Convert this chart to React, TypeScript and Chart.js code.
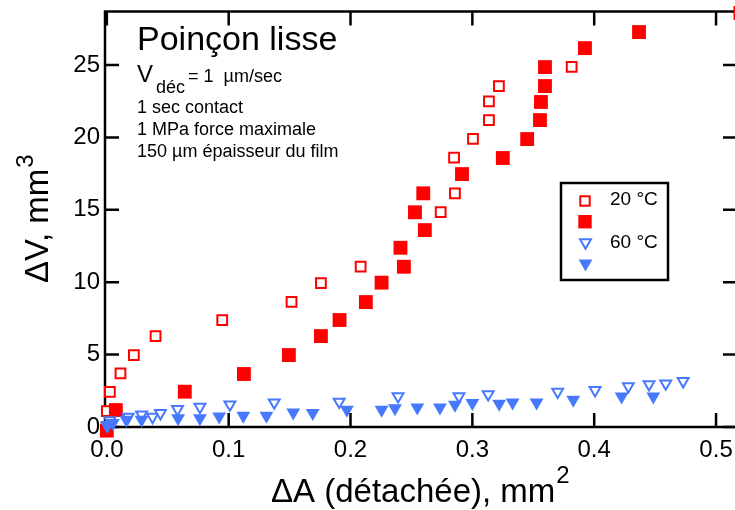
import React, { useEffect, useRef } from 'react';
import { Chart, registerables } from 'chart.js';

Chart.register(...registerables);

// 20 °C, open squares
const open20X = [0.0, 0.0025, 0.0112, 0.0222, 0.040, 0.0947, 0.1516, 0.1757, 0.2083, 0.274, 0.2857, 0.285, 0.3005, 0.3136, 0.3136, 0.3218, 0.3815];
const open20Y = [1.1, 2.42, 3.7, 4.97, 6.28, 7.39, 8.65, 9.94, 11.07, 14.85, 16.13, 18.6, 19.9, 21.2, 22.5, 23.55, 24.88];

// 20 °C, filled squares
const filled20X = [0.0, 0.0074, 0.064, 0.1125, 0.1494, 0.1757, 0.191, 0.2126, 0.2255, 0.2438, 0.241, 0.261, 0.2529, 0.2597, 0.2915, 0.325, 0.345, 0.3555, 0.3563, 0.3596, 0.3596, 0.3924, 0.4368, 0.52];
const filled20Y = [-0.25, 1.17, 2.44, 3.66, 4.97, 6.28, 7.39, 8.63, 9.97, 11.07, 12.38, 13.6, 14.83, 16.14, 17.47, 18.58, 19.89, 21.2, 22.45, 23.55, 24.86, 26.17, 27.28, 28.6];

// 60 °C, open triangles
const open60X = [0.0025, 0.0175, 0.0285, 0.0375, 0.044, 0.058, 0.0764, 0.101, 0.1374, 0.1907, 0.239, 0.289, 0.313, 0.37, 0.4007, 0.428, 0.445, 0.4587, 0.473];
const open60Y = [0.45, 0.7, 0.86, 0.7, 0.96, 1.23, 1.39, 1.55, 1.69, 1.74, 2.12, 2.12, 2.26, 2.43, 2.54, 2.81, 2.95, 3.0, 3.16];

// 60 °C, filled triangles
const filled60X = [0.0, 0.001, 0.005, 0.016, 0.0285, 0.0585, 0.0764, 0.0922, 0.112, 0.131, 0.153, 0.169, 0.197, 0.2255, 0.2365, 0.2548, 0.2734, 0.2857, 0.3, 0.322, 0.333, 0.3527, 0.3828, 0.4225, 0.4485];
const filled60Y = [0.1, 0.13, 0.27, 0.5, 0.5, 0.61, 0.61, 0.73, 0.77, 0.77, 1.01, 0.96, 1.19, 1.19, 1.3, 1.35, 1.35, 1.53, 1.65, 1.6, 1.7, 1.7, 1.88, 2.11, 2.11];

const xTickValues = [0, 0.1, 0.2, 0.3, 0.4, 0.5];
const yTickValues = [0, 5, 10, 15, 20, 25];

const legendLabels = ['20 °C', '60 °C'];
const annotationTitle = 'Poinçon lisse';
const annotationLines = ['1 sec contact', '1 MPa force maximale', '150 µm épaisseur du film'];

const RED = '#ff0000';
const BLUE = '#4779ff';
const FONT = '"Liberation Sans", Arial, Helvetica, sans-serif';

const pts = (xs: number[], ys: number[]) => xs.map((x, i) => ({ x, y: ys[i] }));

const framePlugin = {
  id: 'frameTicks',
  beforeDatasetsDraw(chart: any) {
    const { ctx, chartArea: a, scales } = chart;
    ctx.save();
    ctx.strokeStyle = '#000';
    ctx.lineWidth = 2.5;
    ctx.strokeRect(a.left, a.top, a.right - a.left, a.bottom - a.top);
    const L = 14;
    ctx.beginPath();
    xTickValues.forEach((v) => {
      const px = scales.x.getPixelForValue(v);
      ctx.moveTo(px, a.bottom);
      ctx.lineTo(px, a.bottom - L);
      ctx.moveTo(px, a.top);
      ctx.lineTo(px, a.top + L);
    });
    yTickValues.forEach((v) => {
      const py = scales.y.getPixelForValue(v);
      ctx.moveTo(a.left, py);
      ctx.lineTo(a.left + L, py);
      ctx.moveTo(a.right, py);
      ctx.lineTo(a.right - L, py);
    });
    ctx.stroke();
    ctx.restore();
  },
};

function triangleDown(ctx: CanvasRenderingContext2D, cx: number, cy: number, r: number) {
  ctx.beginPath();
  ctx.moveTo(cx, cy + r);
  ctx.lineTo(cx - r * 0.866, cy - r / 2);
  ctx.lineTo(cx + r * 0.866, cy - r / 2);
  ctx.closePath();
}

const textPlugin = {
  id: 'texts',
  afterDraw(chart: any) {
    const ctx: CanvasRenderingContext2D = chart.ctx;
    ctx.save();
    ctx.fillStyle = '#000';
    ctx.textAlign = 'left';
    ctx.textBaseline = 'alphabetic';

    // annotation block
    ctx.font = `34px ${FONT}`;
    ctx.fillText(annotationTitle, 137, 50);
    ctx.font = `24px ${FONT}`;
    ctx.fillText('V', 137, 82);
    ctx.font = `18px ${FONT}`;
    ctx.fillText('déc', 156, 93);
    ctx.fillText('= 1  µm/sec', 188, 82);
    annotationLines.forEach((t, i) => ctx.fillText(t, 137, 113 + i * 22));

    // x title
    ctx.font = `33px ${FONT}`;
    const xt = 'ΔA (détachée), mm';
    ctx.fillText(xt, 271, 502);
    const xw = ctx.measureText(xt).width;
    ctx.font = `24px ${FONT}`;
    ctx.fillText('2', 271 + xw + 1, 483);

    // y title
    ctx.save();
    ctx.translate(48, 283);
    ctx.rotate(-Math.PI / 2);
    ctx.font = `33px ${FONT}`;
    const yt = 'ΔV, mm';
    ctx.fillText(yt, 0, 0);
    const yw = ctx.measureText(yt).width;
    ctx.font = `24px ${FONT}`;
    ctx.fillText('3', yw + 1, -15);
    ctx.restore();

    // legend
    ctx.lineWidth = 2.5;
    ctx.strokeStyle = '#000';
    ctx.strokeRect(561, 183, 107, 97);
    ctx.lineWidth = 2;
    ctx.strokeStyle = RED;
    ctx.fillStyle = '#fff';
    ctx.fillRect(580.3, 196.3, 9.4, 9.4);
    ctx.strokeRect(580.3, 196.3, 9.4, 9.4);
    ctx.fillStyle = RED;
    ctx.fillRect(578.3, 215, 13.4, 13.4);
    ctx.strokeStyle = BLUE;
    ctx.fillStyle = '#fff';
    triangleDown(ctx, 585.5, 242.5, 6.3);
    ctx.fill();
    ctx.stroke();
    ctx.fillStyle = BLUE;
    triangleDown(ctx, 585.5, 263.5, 8);
    ctx.fill();

    ctx.fillStyle = '#000';
    ctx.font = `19px ${FONT}`;
    ctx.fillText(legendLabels[0], 610, 205);
    ctx.fillText(legendLabels[1], 610, 248);
    ctx.restore();
  },
};

export default function App() {
  const ref = useRef<HTMLCanvasElement | null>(null);

  useEffect(() => {
    if (!ref.current) return;
    const chart = new Chart(ref.current, {
      type: 'scatter',
      data: {
        datasets: [
          {
            label: '20 °C',
            data: pts(open20X, open20Y),
            pointStyle: 'rect',
            pointRadius: 6.9,
            pointBorderWidth: 2,
            pointBorderColor: RED,
            pointBackgroundColor: '#fff',
            clip: false,
            order: 4,
          },
          {
            label: '20 °C filled',
            data: pts(filled20X, filled20Y),
            pointStyle: 'rect',
            pointRadius: 9.8,
            pointBorderWidth: 0,
            pointBackgroundColor: RED,
            pointBorderColor: RED,
            clip: false,
            order: 3,
          },
          {
            label: '60 °C',
            data: pts(open60X, open60Y),
            pointStyle: 'triangle',
            rotation: 180,
            pointRadius: 6.3,
            pointBorderWidth: 2,
            pointBorderColor: BLUE,
            pointBackgroundColor: '#fff',
            clip: false,
            order: 2,
          },
          {
            label: '60 °C filled',
            data: pts(filled60X, filled60Y),
            pointStyle: 'triangle',
            rotation: 180,
            pointRadius: 8,
            pointBorderWidth: 0,
            pointBackgroundColor: BLUE,
            pointBorderColor: BLUE,
            clip: false,
            order: 1,
          },
        ] as any,
      },
      options: {
        animation: false,
        responsive: false,
        devicePixelRatio: 1,
        events: [],
        layout: { padding: { top: 11.5, right: 23, left: 0, bottom: 0 }, autoPadding: false } as any,
        plugins: { legend: { display: false }, tooltip: { enabled: false } },
        scales: {
          x: {
            type: 'linear',
            min: -0.0015,
            max: 0.5172,
            afterBuildTicks: (s: any) => {
              s.ticks = xTickValues.map((v) => ({ value: v }));
            },
            afterFit: (s: any) => {
              s.height = 83;
              s.paddingLeft = 0;
              s.paddingRight = 0;
              s.paddingTop = 0;
              s.paddingBottom = 0;
            },
            grid: { display: false, drawTicks: false },
            border: { display: false },
            ticks: {
              color: '#000',
              font: { family: FONT, size: 24 },
              padding: 9,
              autoSkip: false,
              maxRotation: 0,
              callback: (v: any) => Number(v).toFixed(1),
            },
          },
          y: {
            type: 'linear',
            min: 0,
            max: 28.7,
            afterBuildTicks: (s: any) => {
              s.ticks = yTickValues.map((v) => ({ value: v }));
            },
            afterFit: (s: any) => {
              s.width = 105;
              s.paddingLeft = 0;
              s.paddingRight = 0;
              s.paddingTop = 0;
              s.paddingBottom = 0;
            },
            grid: { display: false, drawTicks: false },
            border: { display: false },
            ticks: {
              color: '#000',
              font: { family: FONT, size: 24 },
              padding: 5,
              autoSkip: false,
              callback: (v: any) => String(v),
            },
          },
        },
      } as any,
      plugins: [framePlugin, textPlugin],
    });
    return () => chart.destroy();
  }, []);

  return (
    <div style={{ position: 'absolute', left: 0, top: 0, width: 735, height: 510, overflow: 'hidden', background: '#fff' }}>
      <canvas ref={ref} width={760} height={510} style={{ display: 'block' }} />
    </div>
  );
}
